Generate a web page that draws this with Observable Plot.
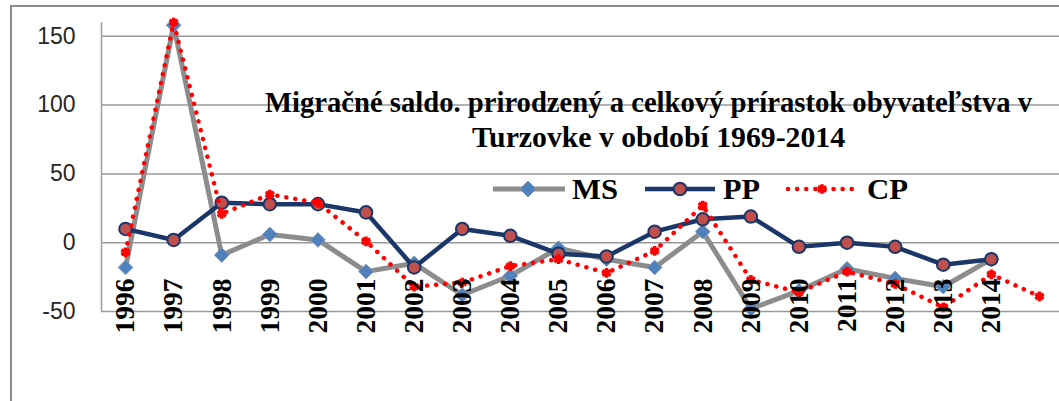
<!DOCTYPE html>
<html><head><meta charset="utf-8">
<script src="https://cdn.jsdelivr.net/npm/d3@7"></script>
<script src="https://cdn.jsdelivr.net/npm/@observablehq/plot@0.6"></script>
<style>
body{margin:0;background:#fff;}
#wrap{position:relative;width:1059px;height:401px;overflow:hidden;background:#fff;}
#border{position:absolute;left:10px;top:5px;width:1200px;height:600px;border-left:2.5px solid #8c8c8c;border-top:2.5px solid #8c8c8c;box-sizing:border-box;}
#chart{position:absolute;left:0;top:0;}
svg.ov{position:absolute;left:0;top:0;pointer-events:none;}
</style></head><body>
<div id="wrap"><div id="border"></div><div id="chart"></div></div>
<script>
const years = [1996,1997,1998,1999,2000,2001,2002,2003,2004,2005,2006,2007,2008,2009,2010,2011,2012,2013,2014,2015];
const labelYears = years.slice(0, 19);
const msValues = [-18,158,-9,6,2,-21,-15,-38,-24,-4,-12,-18,8,-48,-35,-19,-26,-32,-12,null];
const ppValues = [10,2,29,28,28,22,-18,10,5,-8,-10,8,17,19,-3,0,-3,-16,-12,null];
const cpValues = [-7,160,21,35,29,1,-32,-29,-17,-12,-22,-6,27,-27,-36,-21,-30,-47,-23,-39];
const yTicks = [-50,0,50,100,150];
const seriesNames = ["MS","PP","CP"];
const titleLines = ["Migračné saldo. prirodzený a celkový prírastok obyvateľstva v","Turzovke v období 1969-2014"];

const toRows = vals => years.map((year,i)=>({year, v: vals[i]})).filter(d=>d.v!=null);
const ms = toRows(msValues), pp = toRows(ppValues), cp = toRows(cpValues);

const GRAY = "#8c8c8c", NAVY = "#1b3668", RED = "#ff0000", BLUE = "#4f81bd", BROWN = "#c0504d";

const chart = Plot.plot({
  width: 1059, height: 401,
  marginLeft: 101, marginRight: 0, marginTop: 22, marginBottom: 90,
  x: {type: "linear", domain: [1995.5, 2015.5], range: [101, 1063]},
  y: {domain: [-50, 160]},
  style: {background: "transparent", overflow: "visible"},
  marks: [
    Plot.ruleY(yTicks, {stroke: "#9a9a9a", strokeWidth: 1.5}),
    Plot.ruleX([1995.5], {y1: -50, y2: 160, stroke: "#9a9a9a", strokeWidth: 1.5}),
    Plot.axisY(yTicks, {tickSize: 0, tickPadding: 26, fontSize: 23, fontFamily: "Liberation Sans", fill: "#262626", label: null, tickFormat: d => String(d)}),
    Plot.line(ms, {x: "year", y: "v", stroke: GRAY, strokeWidth: 5}),
    Plot.dot(ms, {x: "year", y: "v", symbol: "diamond2", r: 6.6, fill: BLUE, stroke: "#7d93b3", strokeWidth: 1}),
    Plot.line(pp, {x: "year", y: "v", stroke: NAVY, strokeWidth: 4.5}),
    Plot.dot(pp, {x: "year", y: "v", r: 6.3, fill: BROWN, stroke: NAVY, strokeWidth: 2}),
    Plot.line(cp, {x: "year", y: "v", stroke: RED, strokeWidth: 4.5, strokeDasharray: "0.1 9", strokeLinecap: "round"}),
    Plot.dot(cp, {x: "year", y: "v", symbol: "asterisk", r: 4.6, stroke: RED, strokeWidth: 3.5}),
    Plot.dot(cp, {x: "year", y: "v", r: 3, fill: RED}),
    Plot.axisX(labelYears, {anchor: "bottom", tickSize: 0, tickPadding: 0, tickRotate: -90, dy: -33, fontSize: 27.5, fontWeight: "bold", fontFamily: "Liberation Serif", fill: "#000", label: null, tickFormat: d => String(d)})
  ]
});
document.getElementById("chart").appendChild(chart);

// Title and legend overlay (real text)
const ov = d3.select("#wrap").append("svg").attr("class","ov").attr("width",1059).attr("height",401);
const tf = "'Liberation Serif', 'Times New Roman', serif";
ov.append("text").text(titleLines[0]).attr("x",265).attr("y",112).attr("textLength",767).attr("lengthAdjust","spacingAndGlyphs")
  .attr("font-family",tf).attr("font-weight","bold").attr("font-size",29).attr("fill","#000");
ov.append("text").text(titleLines[1]).attr("x",472).attr("y",147).attr("textLength",373).attr("lengthAdjust","spacingAndGlyphs")
  .attr("font-family",tf).attr("font-weight","bold").attr("font-size",29).attr("fill","#000");

const ly = 189;
// MS
ov.append("line").attr("x1",493).attr("x2",565).attr("y1",ly).attr("y2",ly).attr("stroke",GRAY).attr("stroke-width",5);
ov.append("path").attr("d",`M528,${ly-8}L536,${ly}L528,${ly+8}L520,${ly}Z`).attr("fill",BLUE).attr("stroke","#7d93b3");
ov.append("text").text(seriesNames[0]).attr("x",572).attr("y",199).attr("textLength",46).attr("lengthAdjust","spacingAndGlyphs")
  .attr("font-family",tf).attr("font-weight","bold").attr("font-size",30);
// PP
ov.append("line").attr("x1",645).attr("x2",715).attr("y1",ly).attr("y2",ly).attr("stroke",NAVY).attr("stroke-width",4.5);
ov.append("circle").attr("cx",680).attr("cy",ly).attr("r",6.3).attr("fill",BROWN).attr("stroke",NAVY).attr("stroke-width",2);
ov.append("text").text(seriesNames[1]).attr("x",723).attr("y",199).attr("textLength",37).attr("lengthAdjust","spacingAndGlyphs")
  .attr("font-family",tf).attr("font-weight","bold").attr("font-size",30);
// CP
ov.append("line").attr("x1",788).attr("x2",853).attr("y1",ly).attr("y2",ly).attr("stroke",RED).attr("stroke-width",4.5)
  .attr("stroke-dasharray","0.1 9").attr("stroke-linecap","round");
ov.append("path").attr("d",d3.symbol(d3.symbolAsterisk, Math.PI*4.6*4.6)()).attr("transform",`translate(822,${ly})`)
  .attr("stroke",RED).attr("stroke-width",3.5).attr("fill","none");
ov.append("circle").attr("cx",822).attr("cy",ly).attr("r",3).attr("fill",RED);
ov.append("text").text(seriesNames[2]).attr("x",867).attr("y",199).attr("textLength",41).attr("lengthAdjust","spacingAndGlyphs")
  .attr("font-family",tf).attr("font-weight","bold").attr("font-size",30);
</script>
</body></html>
